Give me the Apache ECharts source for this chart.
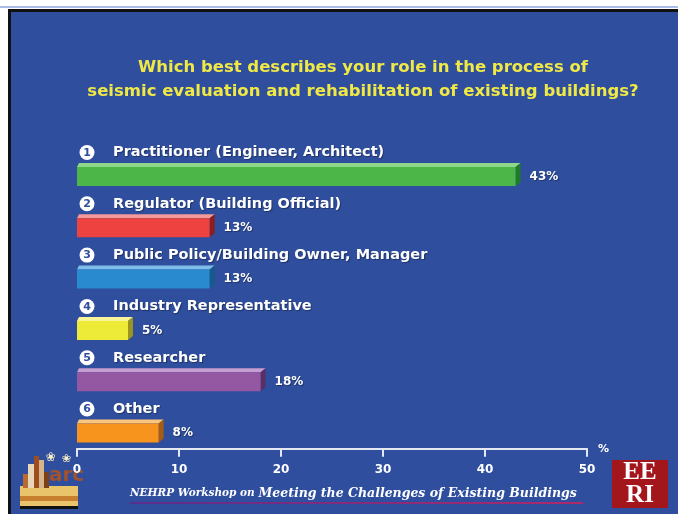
<!DOCTYPE html>
<html>
<head>
<meta charset="utf-8">
<style>
html,body{margin:0;padding:0;background:#fff;}
#c{width:678px;height:514px;}
</style>
<script src="https://cdn.jsdelivr.net/npm/echarts@6/dist/echarts.min.js"></script>
</head>
<body>
<div id="c"></div>
<script>
// ---- data ----
var categories = [
  'Practitioner (Engineer, Architect)',
  'Regulator (Building Official)',
  'Public Policy/Building Owner, Manager',
  'Industry Representative',
  'Researcher',
  'Other'
];
var numbers = ['1','2','3','4','5','6'];
var values = [43, 13, 13, 5, 18, 8];
var valueLabels = ['43%', '13%', '13%', '5%', '18%', '8%'];
var xTicks = [0, 10, 20, 30, 40, 50];
var titleLines = [
  'Which best describes your role in the process of',
  'seismic evaluation and rehabilitation of existing buildings?'
];

// ---- styles ----
var BG = '#2F4E9E';
var palette = [
  {front:'#4CB748', top:'#8ED68A', side:'#1F7A2C'},
  {front:'#EE4240', top:'#F59A98', side:'#8E1E1E'},
  {front:'#2A8ACF', top:'#7FBDE8', side:'#145A8A'},
  {front:'#EEEA38', top:'#F7F49A', side:'#9A9420'},
  {front:'#9457A2', top:'#C79CD0', side:'#5A2F66'},
  {front:'#F7941E', top:'#FBC57E', side:'#A55E10'}
];
var FONT = '"DejaVu Sans", Verdana, sans-serif';

var chart = echarts.init(document.getElementById('c'), null, {renderer:'canvas'});

var seriesData = values.map(function (v, i) { return [v, i]; });

function renderItem(params, api) {
  var i = params.dataIndex;
  var v = api.value(0);
  var cat = api.value(1);
  var p0 = api.coord([0, cat]);
  var p1 = api.coord([v, cat]);
  var c = p0[1];
  var x0 = p0[0], x1 = p1[0];
  var d = 5, dy = 4;
  var fTop = c - 7.5, fBot = c + 11.5;
  var col = palette[i % palette.length];
  var shadow = {textShadowColor: 'rgba(0,0,0,0.35)', textShadowOffsetX: 1, textShadowOffsetY: 1, textShadowBlur: 1};
  return {
    type: 'group',
    children: [
      { type: 'polygon', shape: {points: [[x0, fTop], [x1, fTop], [x1 + d, fTop - dy], [x0 + 2, fTop - dy]]},
        style: {fill: col.top} },
      { type: 'polygon', shape: {points: [[x1, fTop], [x1 + d, fTop - dy], [x1 + d, fBot - dy], [x1, fBot]]},
        style: {fill: col.side} },
      { type: 'rect', shape: {x: x0, y: fTop, width: x1 - x0, height: fBot - fTop},
        style: {fill: col.front} },
      { type: 'circle', shape: {cx: x0 + 10, cy: c - 22, r: 7.5},
        style: {fill: '#ffffff'} },
      { type: 'text', style: {text: numbers[i], x: x0 + 10, y: c - 21.5, fill: BG,
          font: 'bold 11px ' + FONT, align: 'center', verticalAlign: 'middle'} },
      { type: 'text', style: Object.assign({text: categories[i], x: x0 + 36, y: c - 22, fill: '#ffffff',
          font: 'bold 14.5px ' + FONT, align: 'left', verticalAlign: 'middle'}, shadow) },
      { type: 'text', style: Object.assign({text: valueLabels[i], x: x1 + 14, y: c + 2, fill: '#ffffff',
          font: 'bold 12px ' + FONT, align: 'left', verticalAlign: 'middle'}, shadow) }
    ]
  };
}

var option = {
  animation: false,
  backgroundColor: '#ffffff',
  graphic: [
    // slide frame
    {type: 'rect', left: 0, top: 6, shape: {width: 678, height: 2}, style: {fill: '#A9BEE6'}, silent: true, z: -10},
    {type: 'rect', left: 8, top: 9, shape: {width: 670, height: 505}, style: {fill: '#111111'}, silent: true, z: -10},
    {type: 'rect', left: 11, top: 12, shape: {width: 667, height: 502}, style: {fill: BG}, silent: true, z: -9},
    // title
    {type: 'group', x: 363, y: 0, silent: true, z: 5, children: [
      {type: 'text', style: {x: 0, y: 68, text: titleLines[0], fill: '#EFE845', font: 'bold 16.5px ' + FONT,
        align: 'center', verticalAlign: 'middle'}},
      {type: 'text', style: {x: 0, y: 92, text: titleLines[1], fill: '#EFE845', font: 'bold 16.5px ' + FONT,
        align: 'center', verticalAlign: 'middle'}}
    ]},
    // footer text
    {type: 'text', left: 130, top: 487, silent: true, z: 5,
      style: {text: '{a|NEHRP Workshop on }{b|Meeting the Challenges of Existing Buildings}',
        rich: {
          a: {fill: '#ffffff', font: 'italic bold 10.5px "DejaVu Serif", serif'},
          b: {fill: '#ffffff', font: 'italic bold 12.5px "DejaVu Serif", serif'}
        }}},
    {type: 'rect', left: 130, top: 502, silent: true, z: 5,
      shape: {width: 453, height: 2},
      style: {fill: new echarts.graphic.LinearGradient(0, 0, 1, 0, [
        {offset: 0, color: '#5A2E8E'}, {offset: 1, color: '#B0286A'}])}},
    // ARC logo (approximation)
    {type: 'group', left: 20, top: 452, silent: true, z: 4, children: [
      {type: 'rect', shape: {x: 0, y: 34, width: 58, height: 22}, style: {fill: '#E9C46A'}},
      {type: 'rect', shape: {x: 0, y: 44, width: 58, height: 5}, style: {fill: '#C7802E'}},
      {type: 'rect', shape: {x: 0, y: 54, width: 58, height: 3}, style: {fill: '#111111'}},
      {type: 'rect', shape: {x: 8, y: 12, width: 6, height: 24}, style: {fill: '#E8D6B8'}},
      {type: 'rect', shape: {x: 14, y: 4, width: 5, height: 32}, style: {fill: '#9C4E1E'}},
      {type: 'rect', shape: {x: 19, y: 8, width: 5, height: 28}, style: {fill: '#D8B48A'}},
      {type: 'rect', shape: {x: 24, y: 20, width: 5, height: 16}, style: {fill: '#7E3E16'}},
      {type: 'rect', shape: {x: 3, y: 22, width: 5, height: 14}, style: {fill: '#B86A30'}},
      {type: 'text', style: {x: 29, y: 14, text: 'arc', fill: '#A0522D', font: 'bold 20px "DejaVu Sans", sans-serif'}},
      {type: 'text', style: {x: 26, y: 0, text: '\u2740', fill: '#F6EFC8', font: '12px "DejaVu Sans", sans-serif'}},
      {type: 'text', style: {x: 42, y: 2, text: '\u2740', fill: '#F6EFC8', font: '11px "DejaVu Sans", sans-serif'}}
    ]},
    // EERI logo
    {type: 'group', left: 612, top: 460, silent: true, z: 4, children: [
      {type: 'rect', shape: {x: 0, y: 0, width: 56, height: 48}, style: {fill: '#A3161C'}},
      {type: 'text', style: {x: 28, y: 0, text: 'EE', fill: '#ffffff', align: 'center',
        font: 'bold 25px "Liberation Serif", "DejaVu Serif", serif'}},
      {type: 'text', style: {x: 28, y: 23, text: 'RI', fill: '#ffffff', align: 'center',
        font: 'bold 25px "Liberation Serif", "DejaVu Serif", serif'}}
    ]}
  ],
  grid: {left: 77, right: 91, top: 148.85, bottom: 57.3, containLabel: false},
  xAxis: {
    type: 'value', min: xTicks[0], max: xTicks[xTicks.length - 1], interval: 10,
    offset: -8,
    name: '%', nameLocation: 'end', nameGap: 11,
    nameTextStyle: {color: '#ffffff', fontWeight: 'bold', fontSize: 11, fontFamily: FONT, verticalAlign: 'middle'},
    axisLine: {show: true, lineStyle: {color: '#E4E8F2', width: 2}},
    axisTick: {show: true, length: 8, lineStyle: {color: '#E4E8F2', width: 2}},
    axisLabel: {color: '#ffffff', fontWeight: 'bold', fontSize: 12, fontFamily: FONT, margin: 15},
    splitLine: {show: false}
  },
  yAxis: {
    type: 'category', data: categories, inverse: true, show: false
  },
  series: [{
    type: 'custom',
    renderItem: renderItem,
    encode: {x: 0, y: 1},
    data: seriesData,
    clip: false
  }]
};
chart.setOption(option);
</script>
</body>
</html>
